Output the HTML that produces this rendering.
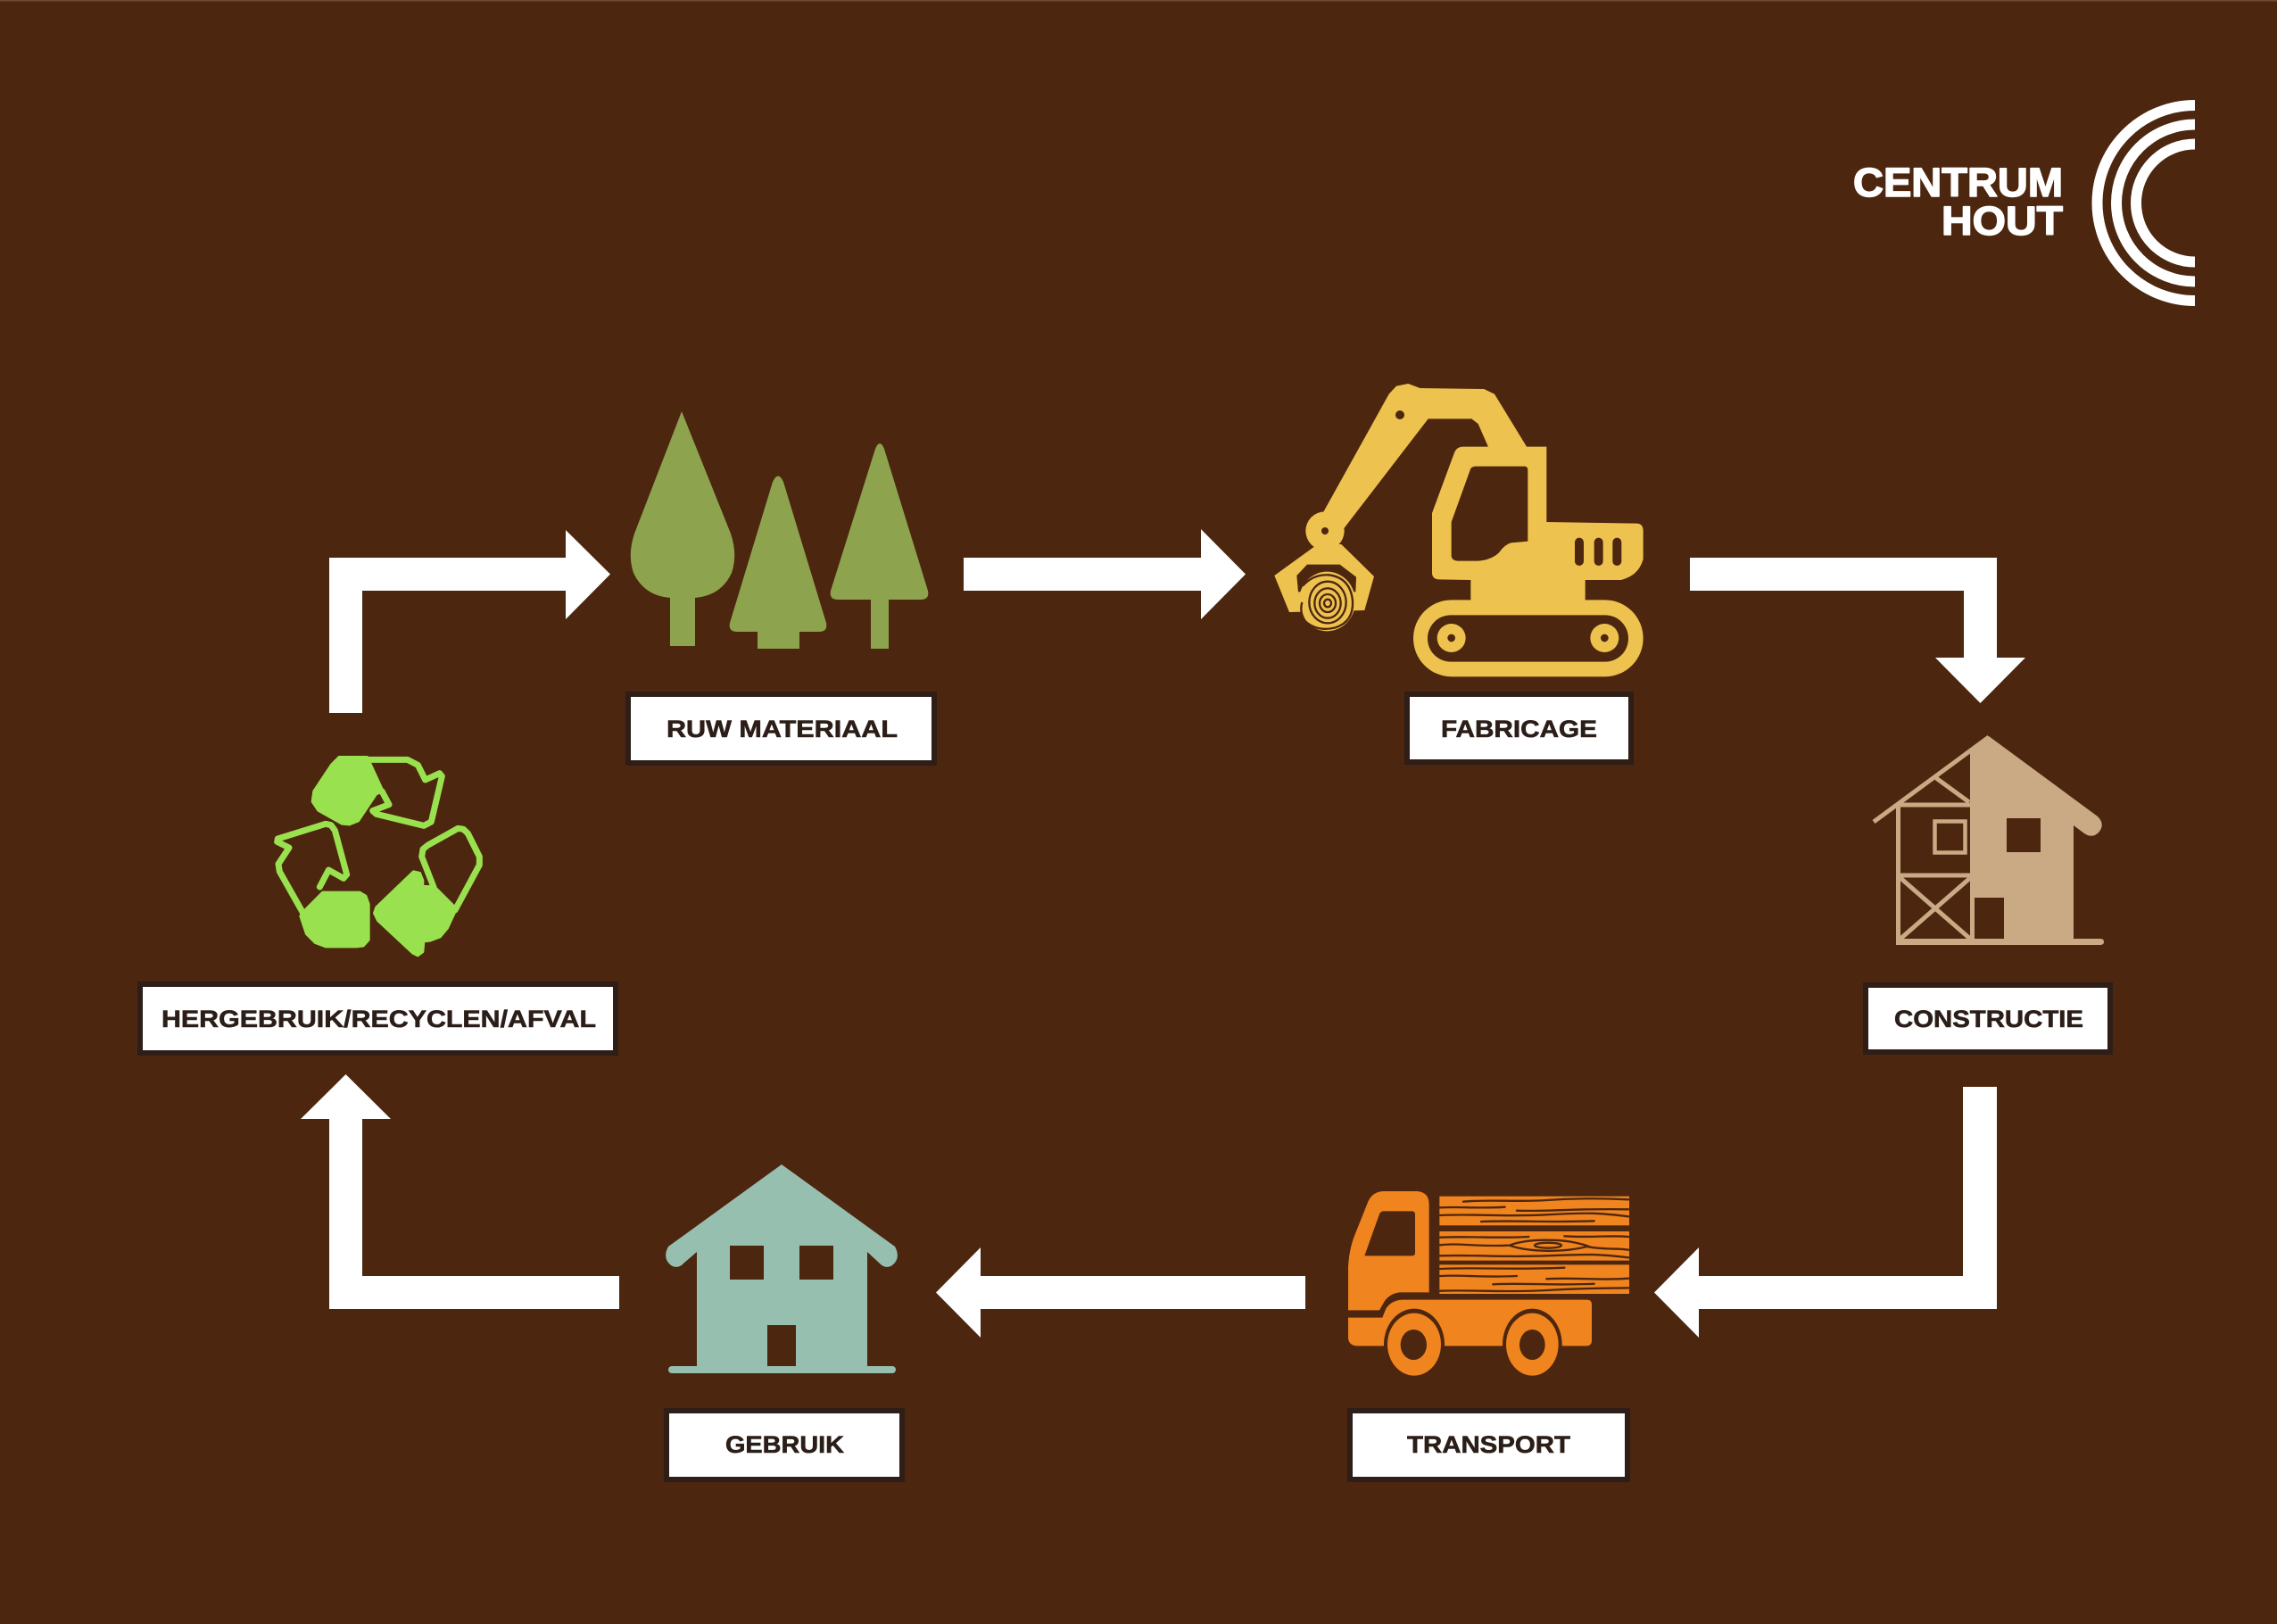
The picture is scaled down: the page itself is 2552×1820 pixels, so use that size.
<!DOCTYPE html>
<html>
<head>
<meta charset="utf-8">
<style>
html,body{margin:0;padding:0;background:#4c260e;}
svg{display:block;}
text{font-family:"Liberation Sans",Arial,sans-serif;font-weight:bold;}
</style>
</head>
<body>
<svg width="2552" height="1820" viewBox="0 0 2552 1820" xmlns="http://www.w3.org/2000/svg">
<rect x="0" y="0" width="2552" height="1820" fill="#4c260e"/>
<rect x="0" y="0" width="2552" height="1.5" fill="#6e4d35"/>

<!-- LOGO -->
<g fill="#ffffff" stroke="#ffffff" stroke-width="1.5" stroke-linejoin="round">
<text x="2077" y="220" font-size="45" textLength="235" lengthAdjust="spacingAndGlyphs">CENTRUM</text>
<text x="2176" y="263" font-size="45" textLength="136" lengthAdjust="spacingAndGlyphs">HOUT</text>
</g>
<g fill="none" stroke="#ffffff" stroke-width="12">
<path d="M2460,118 A109.5,109.5 0 0 0 2460,337"/>
<path d="M2460,139.5 A88,88 0 0 0 2460,315.5"/>
<path d="M2460,161.5 A66,66 0 0 0 2460,293.5"/>
</g>

<!-- ARROWS -->
<g fill="#ffffff">
<polygon points="369,799 369,625 634,625 634,594 684,643.5 634,694 634,662 406,662 406,799"/>
<polygon points="1080,625 1346,625 1346,593 1396,643.5 1346,694 1346,662 1080,662"/>
<polygon points="1894,625 2238,625 2238,737 2270,737 2219.5,788 2169,737 2201,737 2201,662 1894,662"/>
<polygon points="2200,1218 2238,1218 2238,1467 1904,1467 1904,1499 1854,1448.5 1904,1398 1904,1430 2200,1430"/>
<polygon points="1463,1430 1099,1430 1099,1398 1049,1448.5 1099,1499 1099,1467 1463,1467"/>
<polygon points="694,1430 406,1430 406,1254 438,1254 387.5,1204 337,1254 369,1254 369,1467 694,1467"/>
</g>

<!-- TREES -->
<g fill="#8da34e">
<path d="M764,461 L711,598 Q703,622 710,642 Q722,668 752,670 L778,670 Q808,668 820,642 Q827,622 819,598 Z"/>
<rect x="751" y="660" width="28" height="64"/>
<path d="M866,540 Q872,527 878,540 L926,698 Q928,708 918,708 L826,708 Q816,708 818,698 Z"/>
<rect x="849" y="700" width="47" height="27"/>
<path d="M981,503 Q986,491 991,503 L1040,662 Q1042,672 1032,672 L939,672 Q929,672 931,662 Z"/>
<rect x="976" y="665" width="20" height="62"/>
</g>

<!-- EXCAVATOR (zoom coords) -->
<g transform="translate(1400,410) scale(0.33333)">
<g fill="#eec24f">
<polygon points="245,500 470,95 495,68 535,60 575,75 790,78 825,95 935,275 805,275 770,195 748,178 602,178 320,545"/>
<circle cx="255" cy="555" r="65"/>
<polygon points="230,600 310,600 420,708 388,822 135,828 85,705"/>
<path d="M615,495 L690,292 Q698,272 720,272 L1000,272 L1000,525 L1305,530 Q1325,532 1325,555 L1325,650 Q1310,705 1250,720 L1130,720 L1130,795 L745,795 L745,720 L635,718 Q615,716 615,695 Z"/>
<rect x="552" y="787" width="773" height="258" rx="129"/>
</g>
<g fill="#4c260e">
<circle cx="255" cy="555" r="12"/>
<circle cx="507" cy="165" r="15"/>
<polygon points="160,705 195,668 305,668 360,710 358,760 165,760"/>
<path d="M745,345 Q750,338 762,338 L928,338 Q937,340 937,350 L937,590 L880,595 Q860,600 840,628 Q815,652 770,656 L700,656 Q682,654 680,640 L680,525 Z"/>
<rect x="1095" y="578" width="30" height="94" rx="15"/>
<rect x="1160" y="578" width="30" height="94" rx="15"/>
<rect x="1222" y="578" width="30" height="94" rx="15"/>
<rect x="600" y="838" width="675" height="157" rx="78"/>
</g>
<g fill="#eec24f">
<ellipse cx="262" cy="792" rx="95" ry="100"/>
<circle cx="680" cy="915" r="48"/>
<circle cx="1195" cy="915" r="48"/>
</g>
<g fill="#4c260e">
<circle cx="680" cy="915" r="13"/>
<circle cx="1195" cy="915" r="13"/>
</g>
<g fill="none" stroke="#4c260e" stroke-width="7">
<path d="M180,740 Q215,700 268,703 Q340,712 348,790 Q352,860 290,880 Q230,895 190,860 Q168,830 178,795"/>
<ellipse cx="264" cy="795" rx="62" ry="70"/>
<ellipse cx="264" cy="798" rx="44" ry="50"/>
<ellipse cx="264" cy="798" rx="27" ry="30"/>
<ellipse cx="264" cy="798" rx="12" ry="13"/>
</g>
</g>

<!-- CONSTRUCTION HOUSE -->
<g fill="#c9aa84">
<path d="M2208,842 L2229,825 L2351,915 Q2360,924 2352,933 Q2345,940 2336,934 L2324,925 L2324,1052 L2208,1052 Z"/>
<path d="M2125,1052 L2354,1052 Q2358,1052 2358,1055.5 Q2358,1059 2354,1059 L2125,1059 Z"/>
</g>
<g fill="none" stroke="#c9aa84" stroke-width="5">
<line x1="2229" y1="826" x2="2100" y2="921"/>
<line x1="2127.5" y1="900" x2="2127.5" y2="1057"/>
<line x1="2127" y1="902" x2="2209" y2="902"/>
<line x1="2127" y1="981" x2="2209" y2="981"/>
<line x1="2170" y1="872" x2="2207" y2="899"/>
<rect x="2168.5" y="920.5" width="34" height="35" stroke-width="4.5"/>
<line x1="2130" y1="984" x2="2208" y2="1052"/>
<line x1="2208" y1="984" x2="2130" y2="1052"/>
</g>
<g fill="#4c260e">
<rect x="2249" y="917" width="38" height="38"/>
<rect x="2213" y="1006" width="33" height="46"/>
</g>

<!-- TRUCK (zoom coords) -->
<g transform="translate(1500,1320) scale(0.33333)">
<g fill="#f0841f">
<path d="M33,445 L33,300 Q36,235 60,180 L100,80 Q115,45 155,45 L265,45 Q305,48 305,90 L305,385 L205,385 Q172,390 155,415 L138,445 Z"/>
<path d="M33,470 L148,470 L160,440 Q178,412 215,410 L836,410 Q852,410 852,426 L852,546 Q852,565 834,565 L62,565 Q33,563 33,535 Z"/>
<rect x="340" y="62" width="638" height="98"/>
<rect x="340" y="180" width="638" height="98"/>
<rect x="340" y="292" width="638" height="98"/>
</g>
<g fill="#4c260e">
<path d="M152,112 L248,112 Q258,112 258,124 L258,252 Q258,262 248,262 L88,262 L138,122 Q142,112 152,112 Z"/>
<ellipse cx="255" cy="560" rx="102" ry="120"/>
<ellipse cx="652" cy="560" rx="100" ry="120"/>
</g>
<g fill="#f0841f">
<ellipse cx="255" cy="560" rx="90" ry="105"/>
<ellipse cx="652" cy="560" rx="88" ry="105"/>
</g>
<g fill="#4c260e">
<ellipse cx="253" cy="561" rx="44" ry="51"/>
<ellipse cx="652" cy="561" rx="43" ry="51"/>
</g>
<g fill="none" stroke="#4c260e" stroke-width="7" stroke-linecap="round">
<path d="M420,80 C500,72 600,82 700,75 S880,68 975,73"/>
<path d="M342,100 C400,96 480,104 560,98"/>
<path d="M600,110 C700,114 800,102 975,106"/>
<path d="M342,126 C450,120 560,132 700,124 S880,118 975,130"/>
<path d="M480,147 C600,142 700,151 860,145"/>
<path d="M342,200 C450,196 560,204 640,198"/>
<path d="M760,196 C850,202 920,192 975,198"/>
<path d="M342,226 C400,218 460,232 570,227"/>
<path d="M575,227 C630,205 760,200 840,230 C760,252 640,250 575,227 Z"/>
<ellipse cx="705" cy="227" rx="45" ry="9"/>
<path d="M840,232 C900,242 940,236 975,242"/>
<path d="M342,262 C450,258 560,268 700,262 S880,256 975,268"/>
<path d="M342,306 C450,300 560,310 760,302"/>
<path d="M342,330 C420,325 480,336 600,330"/>
<path d="M700,340 C800,334 880,346 975,338"/>
<path d="M520,358 C620,352 720,363 860,356"/>
<path d="M342,380 C450,376 560,386 700,378 S880,372 975,370"/>
</g>
</g>

<!-- GEBRUIK HOUSE -->
<g fill="#97bfb0">
<path d="M876,1305 L1003,1397 Q1010,1410 1000,1418 Q992,1423 985,1415 L972,1403 L972,1531 L781,1531 L781,1403 L767,1415 Q760,1423 752,1418 Q742,1410 749,1397 Z"/>
<rect x="749" y="1531" width="255" height="8" rx="4"/>
</g>
<g fill="#4c260e">
<rect x="818" y="1396" width="38" height="38"/>
<rect x="896" y="1396" width="38" height="38"/>
<rect x="860" y="1485" width="32" height="46"/>
</g>

<!-- RECYCLE (zoom coords) -->
<g transform="translate(300,840) scale(0.33333)">
<g fill="#99e14f">
<polygon points="240,25 335,25 388,140 365,150 305,240 275,252 250,250 170,205 150,175 155,140 215,50" stroke="#99e14f" stroke-width="8" stroke-linejoin="round"/>
<polygon points="115,550 185,480 310,480 330,492 340,520 340,640 322,660 300,663 195,663 160,650 130,620 110,560" stroke="#99e14f" stroke-width="8" stroke-linejoin="round"/>
<polygon points="365,530 490,410 512,415 522,440 522,460 560,460 635,535 605,600 580,630 545,643 525,645 522,680 505,693 488,685 370,575 358,550" stroke="#99e14f" stroke-width="8" stroke-linejoin="round"/>
</g>
<g fill="none" stroke="#99e14f" stroke-width="21" stroke-linejoin="round" stroke-linecap="round">
<polyline points="335,34 470,34 505,52 530,102 578,80 586,90 550,243 525,256 365,217 353,206 408,185 384,140"/>
<polyline points="118,548 40,410 36,385 72,330 32,310 34,300 195,250 213,254 226,272 266,420 255,433 205,405 175,462"/>
<polyline points="558,462 518,360 522,335 538,322 640,265 658,268 673,282 712,360 712,388 630,540"/>
</g>
</g>

<!-- LABELS -->
<g fill="#ffffff" stroke="#2e1e17" stroke-width="6">
<rect x="704" y="778" width="343" height="77"/>
<rect x="1577" y="778" width="251" height="76"/>
<rect x="2091" y="1104" width="274" height="75"/>
<rect x="1513" y="1581" width="311" height="77"/>
<rect x="747" y="1581" width="264" height="77"/>
<rect x="157" y="1103" width="533" height="77"/>
</g>
<g fill="#2b1e18" stroke="#2b1e18" stroke-width="0.6" font-size="27">
<text x="747" y="826" textLength="259" lengthAdjust="spacingAndGlyphs">RUW MATERIAAL</text>
<text x="1615" y="826" textLength="175" lengthAdjust="spacingAndGlyphs">FABRICAGE</text>
<text x="2123" y="1151" textLength="212" lengthAdjust="spacingAndGlyphs">CONSTRUCTIE</text>
<text x="1577" y="1628" textLength="183" lengthAdjust="spacingAndGlyphs">TRANSPORT</text>
<text x="813" y="1628" textLength="133" lengthAdjust="spacingAndGlyphs">GEBRUIK</text>
<text x="181" y="1151" textLength="487" lengthAdjust="spacingAndGlyphs">HERGEBRUIK/RECYCLEN/AFVAL</text>
</g>
</svg>
</body>
</html>
